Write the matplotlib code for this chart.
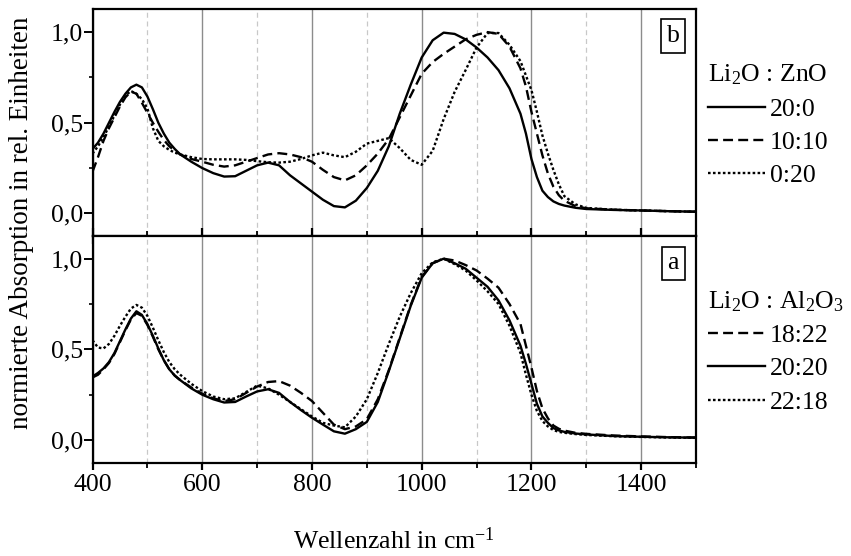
import matplotlib
matplotlib.use("Agg")
import matplotlib.pyplot as plt
from matplotlib.ticker import MultipleLocator, FuncFormatter

plt.rcParams['font.family'] = ['Liberation Serif', 'DejaVu Serif']
plt.rcParams['mathtext.fontset'] = 'custom'
plt.rcParams['mathtext.rm'] = 'Liberation Serif'
plt.rcParams['mathtext.it'] = 'Liberation Serif:italic'

# ---------------- data ----------------
wavenumber = [400, 410, 420, 430, 440, 450, 460, 470, 480, 490, 500, 510, 520, 530, 540, 550, 560,
              580, 600, 620, 640, 660, 680, 700, 720, 740, 760, 780, 800, 820, 840, 860, 880, 900,
              920, 940, 960, 980, 1000, 1020, 1040, 1060, 1080, 1100, 1120, 1140, 1160, 1180,
              1190, 1200, 1210, 1220, 1230, 1240, 1250, 1260, 1280, 1300, 1350, 1400, 1450, 1500]

# panel b: Li2O : ZnO
zno_20_0 = [0.355, 0.39, 0.44, 0.50, 0.56, 0.615, 0.66, 0.695, 0.71, 0.695, 0.645, 0.575, 0.50, 0.44, 0.39, 0.355, 0.325,
            0.285, 0.25, 0.222, 0.203, 0.205, 0.235, 0.265, 0.28, 0.265, 0.21, 0.165, 0.12, 0.075, 0.04, 0.033, 0.07, 0.14,
            0.235, 0.37, 0.55, 0.71, 0.86, 0.955, 0.997, 0.99, 0.96, 0.915, 0.86, 0.79, 0.69, 0.55,
            0.44, 0.30, 0.20, 0.125, 0.09, 0.066, 0.052, 0.043, 0.031, 0.024, 0.019, 0.016, 0.012, 0.009]
zno_10_10 = [0.23, 0.31, 0.40, 0.47, 0.53, 0.59, 0.64, 0.672, 0.66, 0.61, 0.555, 0.50, 0.45, 0.405, 0.37, 0.345, 0.325,
             0.30, 0.285, 0.268, 0.258, 0.265, 0.285, 0.305, 0.325, 0.332, 0.325, 0.31, 0.285, 0.24, 0.20, 0.182, 0.21, 0.265,
             0.33, 0.41, 0.53, 0.65, 0.77, 0.835, 0.88, 0.92, 0.96, 0.985, 1.0, 0.99, 0.92, 0.80,
             0.70, 0.56, 0.44, 0.32, 0.22, 0.147, 0.10, 0.07, 0.04, 0.028, 0.02, 0.016, 0.012, 0.009]
zno_0_20 = [0.33, 0.37, 0.42, 0.48, 0.54, 0.60, 0.65, 0.675, 0.66, 0.63, 0.58, 0.47, 0.40, 0.37, 0.35, 0.335, 0.325,
            0.31, 0.30, 0.298, 0.298, 0.298, 0.295, 0.288, 0.282, 0.28, 0.285, 0.30, 0.32, 0.335, 0.32, 0.31, 0.34, 0.385,
            0.40, 0.415, 0.36, 0.295, 0.268, 0.345, 0.52, 0.67, 0.79, 0.915, 0.995, 0.995, 0.93, 0.84,
            0.76, 0.68, 0.56, 0.43, 0.33, 0.24, 0.16, 0.095, 0.05, 0.03, 0.02, 0.016, 0.012, 0.009]

# panel a: Li2O : Al2O3
al_18_22 = [0.345, 0.36, 0.39, 0.425, 0.475, 0.54, 0.605, 0.665, 0.70, 0.685, 0.635, 0.57, 0.50, 0.44, 0.39, 0.355, 0.33,
            0.29, 0.255, 0.23, 0.215, 0.225, 0.26, 0.295, 0.32, 0.325, 0.30, 0.26, 0.215, 0.15, 0.085, 0.06, 0.075, 0.115,
            0.225, 0.385, 0.565, 0.745, 0.90, 0.975, 1.0, 0.99, 0.965, 0.935, 0.89, 0.84, 0.75, 0.64,
            0.52, 0.40, 0.27, 0.175, 0.12, 0.08, 0.062, 0.052, 0.04, 0.034, 0.025, 0.02, 0.016, 0.014]
al_20_20 = [0.35, 0.37, 0.395, 0.43, 0.48, 0.545, 0.61, 0.67, 0.71, 0.69, 0.64, 0.575, 0.505, 0.44, 0.39, 0.355, 0.33,
            0.285, 0.25, 0.225, 0.207, 0.21, 0.24, 0.268, 0.28, 0.26, 0.21, 0.165, 0.123, 0.085, 0.048, 0.035, 0.06, 0.10,
            0.21, 0.38, 0.56, 0.74, 0.895, 0.975, 1.0, 0.975, 0.945, 0.895, 0.845, 0.77, 0.66, 0.52,
            0.42, 0.31, 0.20, 0.13, 0.095, 0.066, 0.053, 0.045, 0.036, 0.031, 0.022, 0.018, 0.015, 0.013]
al_22_18 = [0.55, 0.51, 0.505, 0.53, 0.575, 0.63, 0.68, 0.725, 0.745, 0.73, 0.685, 0.62, 0.55, 0.485, 0.43, 0.39, 0.36,
            0.31, 0.27, 0.24, 0.225, 0.23, 0.265, 0.30, 0.285, 0.25, 0.21, 0.17, 0.13, 0.095, 0.08, 0.07, 0.13, 0.225,
            0.37, 0.53, 0.68, 0.81, 0.92, 0.98, 1.0, 0.97, 0.935, 0.88, 0.82, 0.75, 0.63, 0.48,
            0.36, 0.25, 0.16, 0.105, 0.075, 0.055, 0.045, 0.04, 0.033, 0.028, 0.021, 0.017, 0.014, 0.012]

labels_b = ["20:0", "10:10", "0:20"]
labels_a = ["18:22", "20:20", "22:18"]
title_b = "Li$_2$O : ZnO"
title_a = "Li$_2$O : Al$_2$O$_3$"
xlabel = "Wellenzahl in cm$^{-1}$"
ylabel = "normierte Absorption in rel. Einheiten"

# ---------------- figure ----------------
FS = 18.5
fig = plt.figure(figsize=(8.51, 5.56), dpi=100)
L, R = 0.1087, 0.8179
ax_b = fig.add_axes([L, 0.5755, R - L, 0.983 - 0.5755])
ax_a = fig.add_axes([L, 0.1678, R - L, 0.5755 - 0.1678], sharex=ax_b)

dash = (0, (4.2, 2.2))
dot = (0, (1.1, 1.0))
solid = '-'
lw = 1.7

ax_b.plot(wavenumber, zno_20_0, color='black', lw=lw, ls=solid, label=labels_b[0])
ax_b.plot(wavenumber, zno_10_10, color='black', lw=lw, ls=dash, label=labels_b[1])
ax_b.plot(wavenumber, zno_0_20, color='black', lw=lw, ls=dot, label=labels_b[2])

ax_a.plot(wavenumber, al_18_22, color='black', lw=lw, ls=dash, label=labels_a[0])
ax_a.plot(wavenumber, al_20_20, color='black', lw=lw, ls=solid, label=labels_a[1])
ax_a.plot(wavenumber, al_22_18, color='black', lw=lw, ls=dot, label=labels_a[2])

comma = FuncFormatter(lambda v, p: f"{v:.1f}".replace('.', ','))

for ax in (ax_b, ax_a):
    ax.set_xlim(400, 1500)
    ax.set_ylim(-0.125, 1.125)
    ax.xaxis.set_major_locator(MultipleLocator(200))
    ax.xaxis.set_minor_locator(MultipleLocator(100))
    ax.yaxis.set_major_locator(MultipleLocator(0.5))
    ax.yaxis.set_minor_locator(MultipleLocator(0.25))
    ax.yaxis.set_major_formatter(comma)
    ax.grid(True, which='major', axis='x', color='#8c8c8c', lw=1.0, ls='-')
    ax.grid(True, which='minor', axis='x', color='#c8c8c8', lw=0.9, ls=(0, (4, 3)))
    ax.set_axisbelow(True)
    for s in ax.spines.values():
        s.set_linewidth(1.6)
    ax.tick_params(axis='y', which='major', direction='out', length=6.5, width=1.4, labelsize=FS, pad=0.5)
    ax.tick_params(axis='y', which='minor', direction='out', length=3, width=1.2)
    ax.tick_params(axis='x', which='major', width=1.6, labelsize=FS)
    ax.tick_params(axis='x', which='minor', width=1.3)

ax_b.tick_params(axis='x', which='major', direction='inout', length=11, labelbottom=False)
ax_b.tick_params(axis='x', which='minor', direction='inout', length=7)
ax_a.tick_params(axis='x', which='major', direction='out', length=5, pad=3)
ax_a.tick_params(axis='x', which='minor', direction='out', length=3.5)

box = dict(boxstyle='square,pad=0.22', fc='white', ec='black', lw=1.2)
ax_b.text(0.962, 0.883, "b", transform=ax_b.transAxes, ha='center', va='center', fontsize=FS, bbox=box)
ax_a.text(0.962, 0.879, "a", transform=ax_a.transAxes, ha='center', va='center', fontsize=FS, bbox=box)

leg_kw = dict(loc='upper left', frameon=False, fontsize=FS, title_fontsize=FS,
              handlelength=2.2, handletextpad=0.2, labelspacing=0.4, borderpad=0,
              borderaxespad=0, alignment='left')
ax_b.legend(title=title_b, bbox_to_anchor=(1.02, 0.765), **leg_kw)
ax_a.legend(title=title_a, bbox_to_anchor=(1.02, 0.765), **leg_kw)

fig.text(0.025, 0.600, ylabel, rotation=90, ha='center', va='center', fontsize=19.5)
ax_a.text(0.5, 0.027, xlabel, transform=matplotlib.transforms.blended_transform_factory(ax_a.transAxes, fig.transFigure),
          ha='center', va='center', fontsize=FS)

fig.savefig("out.png", dpi=100)
